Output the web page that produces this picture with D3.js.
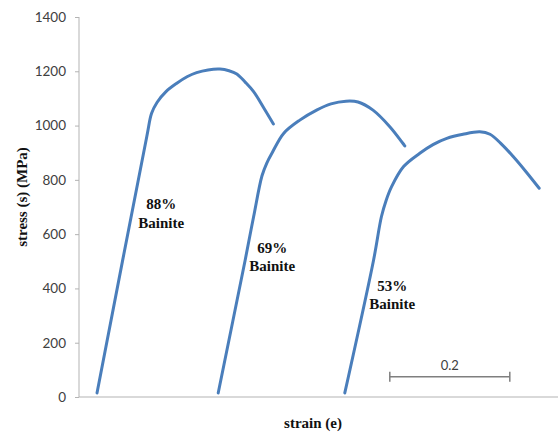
<!DOCTYPE html>
<html><head><meta charset="utf-8">
<script src="https://cdn.jsdelivr.net/npm/d3@7"></script>
<style>body{margin:0;background:#fff}</style>
</head><body>
<svg id="c" width="558" height="432"></svg>
<script>
const yTicks = [0, 200, 400, 600, 800, 1000, 1200, 1400];
const seriesNames = ["88%", "69%", "53%"];
const curve88 = [[0.030,15],[0.113,960],[0.121,1045],[0.130,1085],[0.145,1125],[0.163,1156],[0.180,1180],[0.196,1195],[0.215,1205],[0.235,1208],[0.250,1202],[0.263,1190],[0.277,1160],[0.291,1125],[0.308,1065],[0.324,1006]];
const curve69 = [[0.232,15],[0.277,505],[0.291,664],[0.305,815],[0.313,862],[0.322,900],[0.341,971],[0.368,1020],[0.396,1057],[0.420,1080],[0.445,1090],[0.465,1087],[0.490,1057],[0.518,996],[0.543,925]];
const curve53 = [[0.443,15],[0.491,505],[0.504,664],[0.512,725],[0.521,775],[0.541,849],[0.568,898],[0.590,930],[0.613,953],[0.640,968],[0.668,977],[0.685,968],[0.705,930],[0.724,885],[0.745,830],[0.767,769]];
const labelPos = [[0.137,692],[0.322,532],[0.522,392]];
const scaleBar = [0.518, 0.718];
const scaleBarStress = 75;

const svg = d3.select("#c");
const x = d3.scaleLinear().domain([0, 0.8]).range([79, 559]);
const y = d3.scaleLinear().domain([0, 1400]).range([397, 17]);

// axes
const yAxis = d3.axisLeft(y).tickValues(yTicks).tickFormat(d3.format("d")).tickSize(4).tickPadding(9);
const gy = svg.append("g").attr("transform", "translate(79,0)").call(yAxis);
gy.select(".domain").attr("stroke", "#b3b3b3").attr("d", "M0,17V397");
gy.selectAll(".tick line").attr("stroke", "#b3b3b3");
gy.selectAll(".tick text").attr("fill", "#404040").style("font-family", "Lato, 'Open Sans', sans-serif").style("font-size", "13.5px");

svg.append("line").attr("x1", 79).attr("x2", 558).attr("y1", y(0)).attr("y2", y(0))
  .attr("stroke", "#b3b3b3").attr("stroke-width", 1.2);

// curves
const line = d3.line().x(d => x(d[0])).y(d => y(d[1])).curve(d3.curveCatmullRom.alpha(0.5));
[curve88, curve69, curve53].forEach(c => {
  svg.append("path").attr("d", line(c)).attr("fill", "none")
    .attr("stroke", "#4a7ebb").attr("stroke-width", 3).attr("stroke-linecap", "round");
});

// labels
seriesNames.forEach((n, i) => {
  const cx = x(labelPos[i][0]);
  const t = svg.append("text").attr("x", cx).attr("y", y(labelPos[i][1]))
    .attr("text-anchor", "middle").style("font-family", "'Liberation Serif', 'Times New Roman', serif")
    .style("font-weight", "bold").style("font-size", "15px").attr("fill", "#111");
  t.append("tspan").attr("x", cx).attr("dy", 0).text(n);
  t.append("tspan").attr("x", cx).attr("dy", 18.5).text("Bainite");
});

// scale bar
const sy = y(scaleBarStress);
svg.append("line").attr("x1", x(scaleBar[0])).attr("x2", x(scaleBar[1])).attr("y1", sy).attr("y2", sy)
  .attr("stroke", "#7f7f7f").attr("stroke-width", 1.5);
scaleBar.forEach(v => svg.append("line").attr("x1", x(v)).attr("x2", x(v)).attr("y1", sy - 5).attr("y2", sy + 5)
  .attr("stroke", "#7f7f7f").attr("stroke-width", 1.5));
svg.append("text").attr("x", x((scaleBar[0] + scaleBar[1]) / 2)).attr("y", sy - 7).attr("text-anchor", "middle")
  .style("font-family", "Lato, 'Open Sans', sans-serif").style("font-size", "13px").attr("fill", "#404040")
  .text((scaleBar[1] - scaleBar[0]).toFixed(1));

// axis titles
svg.append("text").attr("x", 313).attr("y", 428).attr("text-anchor", "middle")
  .style("font-family", "'Liberation Serif', 'Times New Roman', serif").style("font-weight", "bold")
  .style("font-size", "15px").attr("fill", "#111").text("strain (e)");
svg.append("text").attr("transform", "translate(27,197) rotate(-90)").attr("text-anchor", "middle")
  .style("font-family", "'Liberation Serif', 'Times New Roman', serif").style("font-weight", "bold")
  .style("font-size", "15px").attr("fill", "#111").text("stress (s) (MPa)");
</script>
</body></html>
